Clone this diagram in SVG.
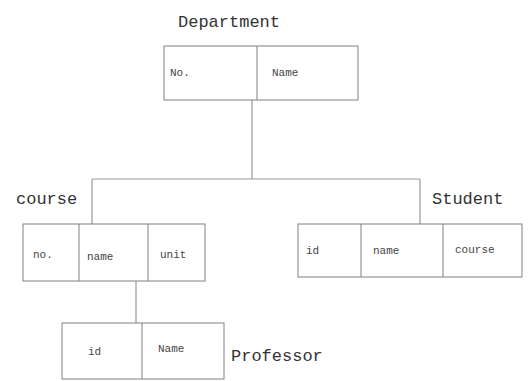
<svg xmlns="http://www.w3.org/2000/svg" width="529" height="381" viewBox="0 0 529 381">
<style>
.box{fill:#fff;stroke:#808080;stroke-width:1}
.ln{stroke:#9a9a9a;stroke-width:1.2;fill:none}
.title{font-family:"Liberation Mono",monospace;font-size:17px;fill:#333}
.lbl{font-family:"Liberation Mono",monospace;font-size:11px;fill:#444}
</style>
<rect width="529" height="381" fill="#fff"/>
<g id="connectors">
<path class="ln" d="M252,100 V179 M92,179 H420 M92,179 V224 M420,179 V224 M136,281 V323"/>
</g>
<g id="department">
<text class="title" x="178" y="27">Department</text>
<rect class="box" x="164" y="46" width="194" height="54"/>
<line class="box" x1="257" y1="46" x2="257" y2="100"/>
<text class="lbl" x="170" y="76">No.</text>
<text class="lbl" x="272" y="76">Name</text>
</g>
<g id="course">
<text class="title" x="16" y="204">course</text>
<rect class="box" x="23" y="224" width="182" height="57"/>
<line class="box" x1="79" y1="224" x2="79" y2="281"/>
<line class="box" x1="148" y1="224" x2="148" y2="281"/>
<text class="lbl" x="33" y="258">no.</text>
<text class="lbl" x="87" y="260">name</text>
<text class="lbl" x="160" y="258">unit</text>
</g>
<g id="student">
<text class="title" x="432" y="204">Student</text>
<rect class="box" x="298" y="224" width="224" height="53"/>
<line class="box" x1="361" y1="224" x2="361" y2="277"/>
<line class="box" x1="443" y1="224" x2="443" y2="277"/>
<text class="lbl" x="306" y="254">id</text>
<text class="lbl" x="373" y="254">name</text>
<text class="lbl" x="455" y="253">course</text>
</g>
<g id="professor">
<rect class="box" x="62" y="323" width="162" height="56"/>
<line class="box" x1="142" y1="323" x2="142" y2="379"/>
<text class="lbl" x="88" y="355">id</text>
<text class="lbl" x="158" y="352">Name</text>
<text class="title" x="231" y="361">Professor</text>
</g>
</svg>
